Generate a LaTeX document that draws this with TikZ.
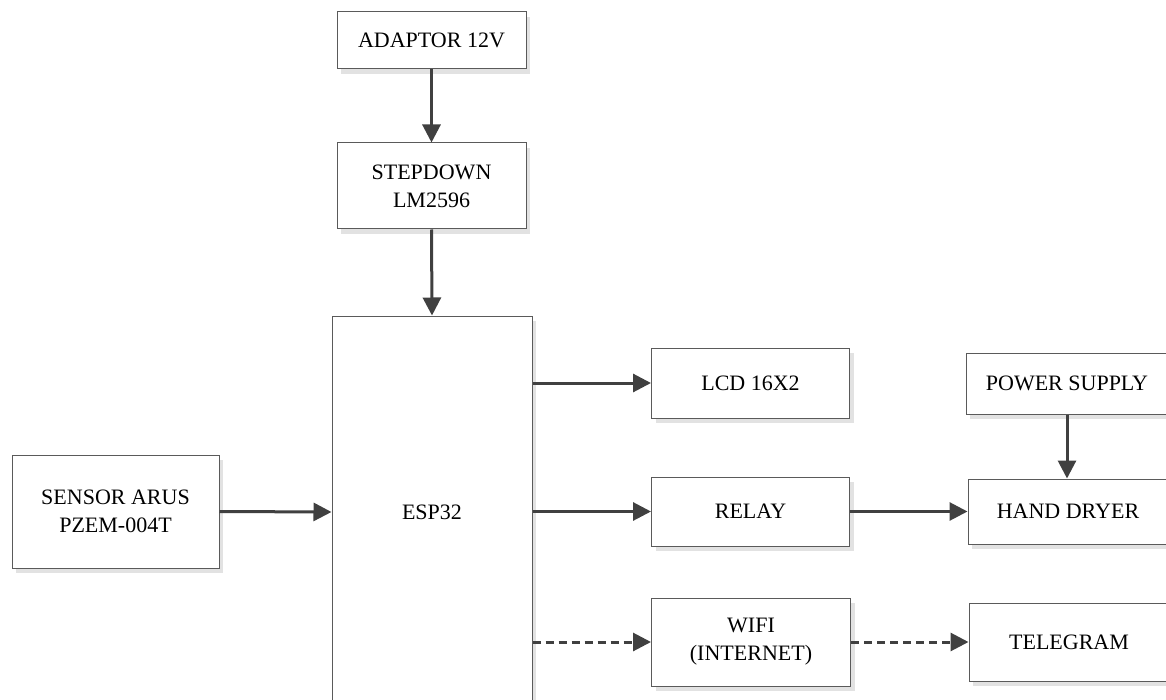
\documentclass[tikz,border=0pt]{standalone}
\usepackage{fontspec}
\setmainfont{Liberation Serif}
\usetikzlibrary{arrows.meta,shadows}
\definecolor{boxline}{HTML}{5A5A5A}
\definecolor{arrowcol}{HTML}{404040}
\definecolor{shadowcol}{HTML}{E2E2E2}
\tikzset{
  blk/.style={draw=boxline, line width=1pt, fill=white, rectangle, align=center,
    inner sep=0pt, font=\fontsize{22}{28}\selectfont,
    drop shadow={shadow xshift=4pt, shadow yshift=-5pt, fill=shadowcol, opacity=1}},
  conn/.style={draw=arrowcol, line width=3pt, -{Triangle[length=18pt,width=18pt]}},
  dconn/.style={conn, dash pattern=on 8pt off 5pt}
}
\begin{document}
\begin{tikzpicture}[x=1pt,y=-1pt]
\useasboundingbox (0,0) rectangle (1166,700);
\clip (0,0) rectangle (1166,700);
\node[blk, minimum width=189pt, minimum height=57pt] (adaptor) at (431.5,40.5) {ADAPTOR 12V};
\node[blk, minimum width=189pt, minimum height=86pt] (stepdown) at (431.5,186) {STEPDOWN\\LM2596};
\node[blk, minimum width=200pt, minimum height=392pt] (esp) at (432,512) {ESP32};
\node[blk, minimum width=207pt, minimum height=113pt] (sensor) at (115.5,511.5) {SENSOR ARUS\\PZEM-004T};
\node[blk, minimum width=198pt, minimum height=70pt] (lcd) at (750.5,383) {LCD 16X2};
\node[blk, minimum width=198pt, minimum height=69pt] (relay) at (750.5,511.5) {RELAY};
\node[blk, minimum width=199pt, minimum height=88pt] (wifi) at (751,642) {WIFI\\(INTERNET)};
\node[blk, minimum width=202pt, minimum height=61pt] (power) at (1067,383.5) {POWER SUPPLY};
\node[blk, minimum width=200pt, minimum height=65pt] (hand) at (1068,511.5) {HAND DRYER};
\node[blk, minimum width=200pt, minimum height=78pt] (telegram) at (1069,642) {TELEGRAM};

\draw[conn] (adaptor.south) -- (stepdown.north);
\draw[conn] (stepdown.south) -- (esp.north);
\draw[conn] (sensor.east) -- (esp.west);
\draw[conn] (esp.east |- lcd.west) -- (lcd.west);
\draw[conn] (esp.east |- relay.west) -- (relay.west);
\draw[conn] (relay.east) -- (hand.west);
\draw[conn] (power.south) -- (power.south |- hand.north);
\draw[dconn] (esp.east |- wifi.west) -- (wifi.west);
\draw[dconn] (wifi.east) -- (telegram.west);
\end{tikzpicture}
\end{document}
